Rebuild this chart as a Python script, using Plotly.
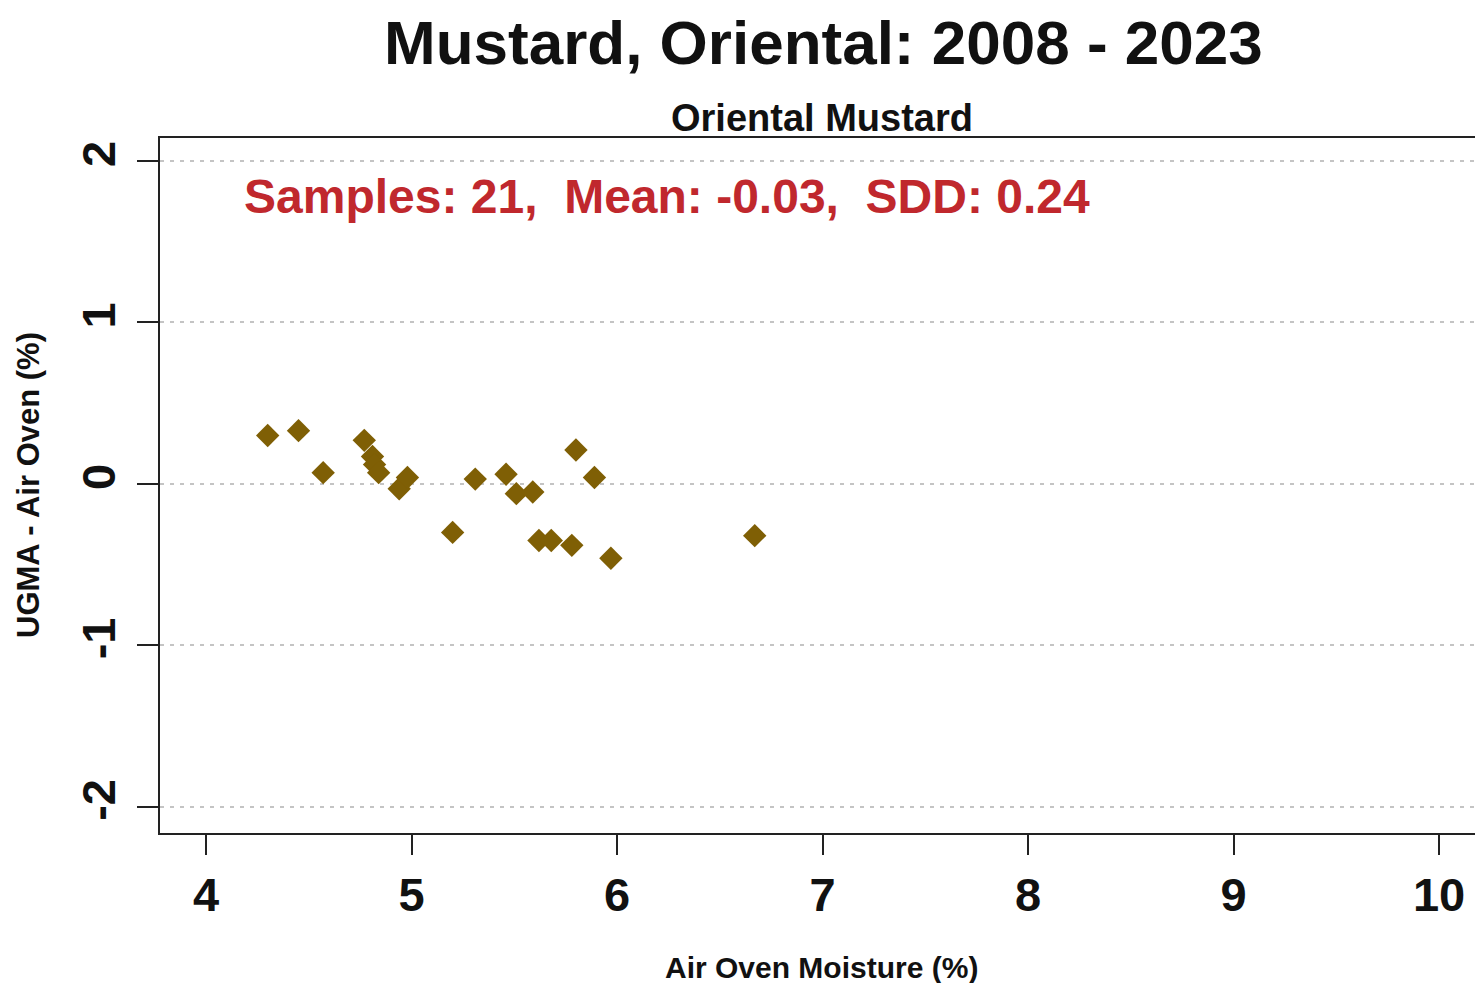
"""Oriental mustard: UGMA minus air oven moisture, scatter."""
import plotly.graph_objects as go

# air oven moisture (%) and UGMA - air oven difference (%)
air_oven = [4.30, 4.45, 4.57, 4.77, 4.81, 4.82, 4.84, 4.94, 4.98, 5.20, 5.31,
            5.46, 5.51, 5.59, 5.62, 5.68, 5.78, 5.80, 5.89, 5.97, 6.67]
diff = [0.30, 0.33, 0.07, 0.27, 0.17, 0.12, 0.07, -0.03, 0.04, -0.30, 0.03,
        0.06, -0.06, -0.05, -0.35, -0.35, -0.38, 0.21, 0.04, -0.46, -0.32]

x_ticks = [4, 5, 6, 7, 8, 9, 10]
y_ticks = [-2, -1, 0, 1, 2]
y_labels = ["-2", "-1", "0", "1", "2"]

title = "Mustard, Oriental: 2008 - 2023"
subtitle = "Oriental Mustard"
stats = "Samples: 21,  Mean: -0.03,  SDD: 0.24"

FONT = "Liberation Sans, Arial, sans-serif"
W, H = 1475, 983
L, T, B = 160, 138, 983 - 833
plot_h = H - T - B


def py(pix):
    # pixel row -> paper y
    return (H - B - pix) / plot_h


def px(pix):
    # pixel column -> paper x
    return (pix - L) / (W - L)


fig = go.Figure()
fig.add_trace(go.Scatter(
    x=air_oven, y=diff, mode="markers",
    marker=dict(symbol="diamond", size=18, color="#7f5f05",
                line=dict(width=0)),
    showlegend=False, hoverinfo="x+y"
))

fig.update_layout(
    width=W, height=H,
    margin=dict(l=L, r=0, t=T, b=B),
    plot_bgcolor="#ffffff", paper_bgcolor="#ffffff",
    font=dict(family=FONT, color="#111111"),
    xaxis=dict(
        range=[3.776, 10.175], tickvals=x_ticks,
        ticks="outside", ticklen=20, tickwidth=2, tickcolor="#222222",
        showline=True, linewidth=2, linecolor="#222222", mirror=True,
        showgrid=False, zeroline=False,
        tickfont=dict(family=FONT, size=47, color="#111111", weight="bold"),
    ),
    yaxis=dict(
        range=[-2.161, 2.142], tickvals=y_ticks, ticktext=y_labels,
        tickangle=-90,
        ticks="outside", ticklen=21, tickwidth=2, tickcolor="#222222",
        showline=True, linewidth=2, linecolor="#222222",
        showgrid=True, gridcolor="#c4c4c4", gridwidth=1.5, griddash="4px,6px",
        zeroline=False, ticklabelstandoff=3,
        tickfont=dict(family=FONT, size=47, color="#111111", weight="bold"),
    ),
    annotations=[
        dict(text=f"<b>{title}</b>", xref="paper", yref="paper",
             x=px(823), y=py(43), xanchor="center", yanchor="middle",
             showarrow=False, font=dict(size=62, color="#111111")),
        dict(text=f"<b>{subtitle}</b>", xref="paper", yref="paper",
             x=px(822), y=py(118), xanchor="center", yanchor="middle",
             showarrow=False, font=dict(size=38, color="#111111")),
        dict(text=f"<b>{stats}</b>", xref="paper", yref="paper",
             x=px(242), y=py(196), xanchor="left", yanchor="middle",
             showarrow=False, font=dict(size=48, color="#c0282d")),
        dict(text="<b>Air Oven Moisture (%)</b>", xref="paper", yref="paper",
             x=px(822), y=py(967), xanchor="center", yanchor="middle",
             showarrow=False, font=dict(size=30, color="#111111")),
        dict(text="<b>UGMA - Air Oven (%)</b>", xref="paper", yref="paper",
             x=px(28), y=py(485), xanchor="center", yanchor="middle",
             showarrow=False, textangle=-90,
             font=dict(size=31, color="#111111")),
    ],
)

# drop the default page margin so the figure fills the window exactly
fig.write_html(
    "out.html",
    config={"displayModeBar": False},
    post_script="document.body.style.margin='0';"
                "document.body.style.overflow='hidden';",
)
